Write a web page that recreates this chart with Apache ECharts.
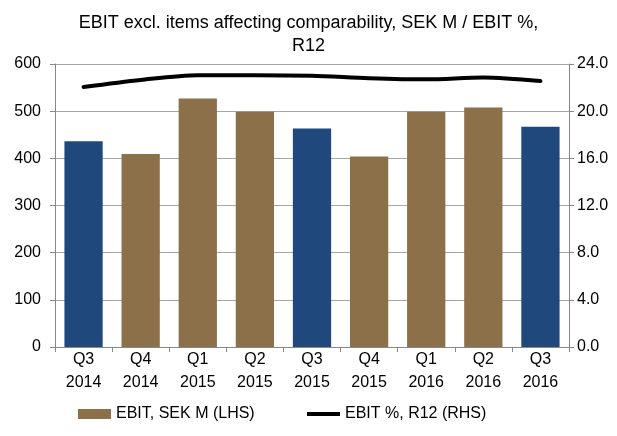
<!DOCTYPE html>
<html>
<head>
<meta charset="utf-8">
<script src="https://cdn.jsdelivr.net/npm/echarts@6/dist/echarts.min.js"></script>
<style>
  html, body { margin: 0; padding: 0; background: #fff; }
  #chart { width: 617px; height: 436px; }
</style>
</head>
<body>
<div id="chart"></div>
<script>
// 数据
const categories = ['Q3\n2014', 'Q4\n2014', 'Q1\n2015', 'Q2\n2015', 'Q3\n2015', 'Q4\n2015', 'Q1\n2016', 'Q2\n2016', 'Q3\n2016']
const ebitValues = [436, 409, 527, 499, 463, 404, 499, 508, 467]
const ebitPct = [22.05, 22.65, 23.05, 23.05, 23.0, 22.8, 22.7, 22.85, 22.55]
const highlighted = [0, 4, 8] // Q3 的柱子用蓝色
const leftTicks = [0, 600, 100]
const rightTicks = [0, 24, 4]

const brown = '#8b7049'
const blue = '#1f497d'
const font = 'Liberation Sans, Arial, sans-serif'

const chart = echarts.init(document.getElementById('chart'))

const option = {
  animation: false,
  textStyle: { fontFamily: font },
  title: {
    text: 'EBIT excl. items affecting comparability, SEK M / EBIT %,\nR12',
    left: 'center',
    top: 7,
    textStyle: { fontFamily: font, fontSize: 18, fontWeight: 'normal', color: '#000', lineHeight: 23 }
  },
  legend: [
    {
      left: 73, top: 401, itemWidth: 33, itemHeight: 10, itemGap: 5,
      textStyle: { fontFamily: font, fontSize: 16, color: '#000' },
      data: [{ name: 'EBIT, SEK M (LHS)', icon: 'rect' }]
    },
    {
      left: 302, top: 401, itemWidth: 33, itemHeight: 10,
      textStyle: { fontFamily: font, fontSize: 16, color: '#000' },
      data: [{ name: 'EBIT %, R12 (RHS)', icon: 'path://M0,0 L33,0 L33,4 L0,4 Z', itemStyle: { color: '#000' } }]
    }
  ],
  grid: { left: 55, right: 48, top: 64, bottom: 89, containLabel: false },
  xAxis: {
    type: 'category',
    data: categories,
    axisLine: { lineStyle: { color: '#888', width: 1 } },
    axisTick: { show: true, length: 5, lineStyle: { color: '#888' } },
    axisLabel: { color: '#000', fontSize: 16, lineHeight: 23, margin: 1, fontFamily: font }
  },
  yAxis: [
    {
      type: 'value', min: leftTicks[0], max: leftTicks[1], interval: leftTicks[2],
      axisLine: { show: true, lineStyle: { color: '#888' } },
      axisTick: { show: true, length: 5, lineStyle: { color: '#888' } },
      splitLine: { lineStyle: { color: '#a6a6a6' } },
      axisLabel: { color: '#000', fontSize: 16, margin: 14, fontFamily: font }
    },
    {
      type: 'value', min: rightTicks[0], max: rightTicks[1], interval: rightTicks[2],
      axisLine: { show: true, lineStyle: { color: '#888' } },
      axisTick: { show: true, length: 5, lineStyle: { color: '#888' } },
      splitLine: { show: false },
      axisLabel: { color: '#000', fontSize: 16, margin: 8, fontFamily: font, formatter: v => v.toFixed(1) }
    }
  ],
  series: [
    {
      name: 'EBIT, SEK M (LHS)',
      type: 'bar',
      barWidth: '67%',
      itemStyle: { color: brown },
      data: ebitValues.map((v, i) => ({
        value: v,
        itemStyle: { color: highlighted.includes(i) ? blue : brown }
      }))
    },
    {
      name: 'EBIT %, R12 (RHS)',
      type: 'line',
      yAxisIndex: 1,
      smooth: 0.3,
      symbol: 'none',
      lineStyle: { color: '#000', width: 4, cap: 'round' },
      itemStyle: { color: '#000' },
      data: ebitPct
    }
  ]
}

chart.setOption(option)
</script>
</body>
</html>
